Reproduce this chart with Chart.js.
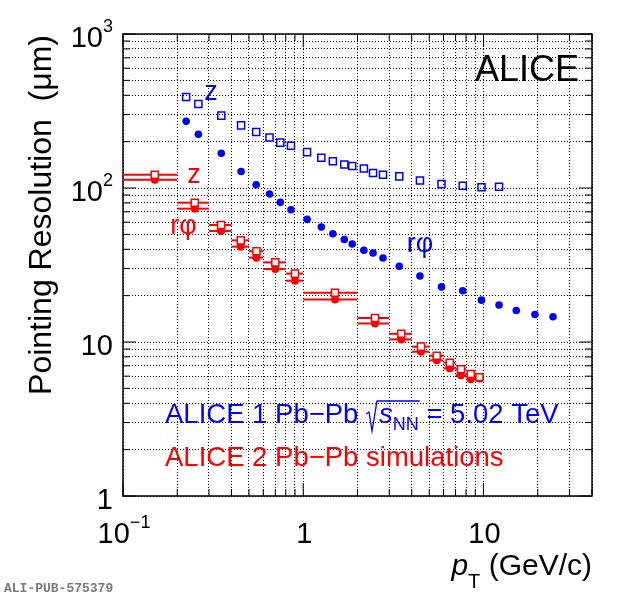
<!DOCTYPE html>
<html>
<head>
<meta charset="utf-8">
<script src="https://cdn.jsdelivr.net/npm/chart.js@4.4.1/dist/chart.umd.min.js"></script>
<style>
  html, body { margin: 0; padding: 0; background: #fff; }
  #wrap { width: 620px; height: 599px; }
</style>
</head>
<body>
<div id="wrap"><canvas id="resolution-chart"></canvas></div>
<script>
// ALICE 1, Pb-Pb 5.02 TeV (measured) — pT in GeV/c, resolution in um
const alice1Pt   = [0.224, 0.262, 0.351, 0.452, 0.548, 0.650, 0.746, 0.855, 1.05, 1.26, 1.46, 1.69, 1.87,
                    2.17, 2.44, 2.77, 3.41, 4.44, 5.85, 7.67, 9.75, 12.2, 15.2, 19.3, 24.3];
const alice1Z    = [390, 351, 295, 255, 231, 213, 197, 188, 171, 157, 149, 142, 139,
                    134, 125, 122, 119, 112, 106, 103.5, 101, 102, null, null, null];
const alice1RPhi = [271, 223, 168, 128, 105, 91.4, 80.7, 72.3, 62.6, 55.8, 50.5, 46.3, 43.3,
                    39.4, 37.8, 35.1, 31.0, 26.8, 22.8, 21.5, 18.7, 17.4, 16.0, 15.1, 14.6];

// ALICE 2 simulation, pT bins
const alice2PtLow  = [0.1, 0.2, 0.3, 0.4, 0.5, 0.6, 0.8, 1, 2, 3, 4, 5, 6, 7, 8, 9];
const alice2PtHigh = [0.2, 0.3, 0.4, 0.5, 0.6, 0.8, 1, 2, 3, 4, 5, 6, 7, 8, 9, 10];
const alice2Pt     = [0.15, 0.25, 0.35, 0.45, 0.55, 0.7, 0.9, 1.5, 2.5, 3.5, 4.5, 5.5, 6.5, 7.5, 8.5, 9.5];
const alice2Z      = [122, 80.3, 57.5, 45.7, 38.8, 32.9, 27.8, 20.9, 14.3, 11.3, 9.33, 8.15, 7.34, 6.65, 6.20, 5.9];
const alice2RPhi   = [113, 73.4, 52.6, 41.6, 35.3, 29.8, 25.0, 18.9, 13.2, 10.4, 8.65, 7.60, 6.75, 6.08, 5.73, 5.8];

// axis ranges and decade labels (base, exponent)
const xRange = [0.1, 40];
const yRange = [1, 1000];
const xDecades = [0.1, 1, 10];
const xDecadeLabels = [["10", "\u22121"], ["1", ""], ["10", ""]];
const yDecades = [1, 10, 100, 1000];
const yDecadeLabels = [["1", ""], ["10", ""], ["10", "2"], ["10", "3"]];

const BLUE = "#0000ff";
const RED = "#ff0000";
const SANS = '"Liberation Sans", Arial, sans-serif';
const font = (px, style) => `${style || ""} ${px}px ${SANS}`;

// 1..9 in every decade, for grid lines and tick marks
function logTicks(min, max) {
  const out = [];
  for (let e = Math.floor(Math.log10(min)); e <= Math.ceil(Math.log10(max)); e++) {
    for (let k = 1; k <= 9; k++) {
      const v = Number((k * Math.pow(10, e)).toPrecision(3));
      if (v >= min && v <= max) out.push(v);
    }
  }
  return out;
}
const isDecade = v => Math.abs(Math.log10(v) - Math.round(Math.log10(v))) < 1e-6;

function points(xs, ys) {
  return xs.map((x, i) => ({ x: x, y: ys[i] })).filter(p => p.y != null);
}

// draw a row of text pieces [text, font, dy, colour], returns end x
function textRun(ctx, x, y, pieces) {
  pieces.forEach(([t, f, dy, c]) => {
    ctx.font = f;
    if (c) ctx.fillStyle = c;
    ctx.fillText(t, x, y + (dy || 0));
    x += ctx.measureText(t).width;
  });
  return x;
}
function runWidth(ctx, pieces) {
  let w = 0;
  pieces.forEach(([t, f]) => { ctx.font = f; w += ctx.measureText(t).width; });
  return w;
}

const rootStyle = {
  id: "rootStyle",
  beforeDatasetsDraw(chart) {
    const { ctx, chartArea: a, scales: { x, y } } = chart;
    ctx.save();
    // frame
    ctx.strokeStyle = "#000";
    ctx.lineWidth = 1.5;
    ctx.strokeRect(a.left, a.top, a.right - a.left, a.bottom - a.top);
    // inward ticks on all four sides
    ctx.lineWidth = 1;
    x.ticks.forEach(t => {
      const px = x.getPixelForValue(t.value);
      const len = isDecade(t.value) ? 13 : 7;
      ctx.beginPath();
      ctx.moveTo(px, a.bottom); ctx.lineTo(px, a.bottom - len);
      ctx.moveTo(px, a.top); ctx.lineTo(px, a.top + len);
      ctx.stroke();
    });
    y.ticks.forEach(t => {
      const py = y.getPixelForValue(t.value);
      const len = isDecade(t.value) ? 13 : 7;
      ctx.beginPath();
      ctx.moveTo(a.left, py); ctx.lineTo(a.left + len, py);
      ctx.moveTo(a.right, py); ctx.lineTo(a.right - len, py);
      ctx.stroke();
    });
    // ALICE 2 bin widths
    ctx.strokeStyle = RED;
    ctx.lineWidth = 2;
    alice2Pt.forEach((pt, i) => {
      const x1 = x.getPixelForValue(alice2PtLow[i]);
      const x2 = x.getPixelForValue(alice2PtHigh[i]);
      [alice2Z[i], alice2RPhi[i]].forEach(v => {
        const py = y.getPixelForValue(v);
        ctx.beginPath(); ctx.moveTo(x1, py); ctx.lineTo(x2, py); ctx.stroke();
      });
    });
    ctx.restore();
  },
  afterDraw(chart) {
    const { ctx, chartArea: a, scales: { x, y } } = chart;
    ctx.save();
    ctx.textAlign = "left";
    ctx.textBaseline = "alphabetic";
    ctx.fillStyle = "#000";

    // tick labels
    xDecades.forEach((v, i) => {
      const [base, sup] = xDecadeLabels[i];
      const pieces = [[base, font(29)], [sup, font(18), -15]];
      const px = x.getPixelForValue(v);
      textRun(ctx, px - runWidth(ctx, pieces) / 2 + 1, a.bottom + 47, pieces);
    });
    yDecades.forEach((v, i) => {
      const [base, sup] = yDecadeLabels[i];
      const pieces = [[base, font(29)], [sup, font(18), -15]];
      const py = y.getPixelForValue(v);
      textRun(ctx, a.left - 10 - runWidth(ctx, pieces), py + 13, pieces);
    });

    // axis titles
    const xt = [["p", font(30, "italic")], ["T", font(20), 13], [" (GeV/c)", font(30)]];
    textRun(ctx, a.right - runWidth(ctx, xt), 575, xt);

    ctx.save();
    ctx.translate(51, a.top + 1);
    ctx.rotate(-Math.PI / 2);
    ctx.textAlign = "right";
    ctx.font = font(32);
    ctx.fillText("Pointing Resolution  (\u03bcm)", 0, 0);
    ctx.restore();

    // ALICE logo text
    ctx.font = font(36);
    ctx.textAlign = "right";
    ctx.fillText("ALICE", a.right - 13, 81);
    ctx.textAlign = "left";

    // curve labels, anchored in data coordinates
    const curveLabels = [
      ["z", 0.282, 373, BLUE], ["r\u03c6", 3.75, 38.4, BLUE],
      ["z", 0.227, 108, RED], ["r\u03c6", 0.183, 50.3, RED]
    ];
    ctx.font = font(27);
    curveLabels.forEach(([t, vx, vy, c]) => {
      ctx.fillStyle = c;
      ctx.fillText(t, x.getPixelForValue(vx), y.getPixelForValue(vy));
    });

    // ALICE 1 line with sqrt(s_NN)
    const by = 423;
    let cx = textRun(ctx, 165, by, [["ALICE 1 Pb\u2212Pb ", font(27.5), 0, BLUE]]);
    const rx = cx;
    cx += 13;
    cx = textRun(ctx, cx, by, [["s", font(27.5, "italic")], ["NN", font(18), 7]]);
    ctx.strokeStyle = BLUE;
    ctx.lineWidth = 1.3;
    ctx.beginPath();
    ctx.moveTo(rx, by - 9);
    ctx.lineTo(rx + 3, by - 11);
    ctx.lineTo(rx + 6, by + 8);
    ctx.lineTo(rx + 11, by - 22);
    ctx.lineTo(cx + 1, by - 22);
    ctx.stroke();
    textRun(ctx, cx, by, [[" = 5.02 TeV", font(27.5)]]);

    textRun(ctx, 165, 466, [["ALICE 2 Pb\u2212Pb simulations", font(27.5), 0, RED]]);

    ctx.font = 'bold 13px "Liberation Mono", monospace';
    ctx.fillStyle = "#7a7a7a";
    ctx.fillText("ALI-PUB-575379", 4, 592);
    ctx.restore();
  }
};

const logAxis = (range, size, isX) => ({
  type: "logarithmic",
  min: range[0],
  max: range[1],
  afterBuildTicks: s => { s.ticks = logTicks(range[0], range[1]).map(v => ({ value: v })); },
  afterFit: s => { if (isX) s.height = size; else s.width = size; },
  ticks: { display: false },
  grid: { color: "#000", lineWidth: 1, drawTicks: false },
  border: { display: false, dash: [1, 2] }
});

const ctx = document.getElementById("resolution-chart").getContext("2d");
new Chart(ctx, {
  type: "scatter",
  data: {
    datasets: [
      {
        label: "ALICE 1 z",
        data: points(alice1Pt, alice1Z),
        pointStyle: "rect", pointRadius: 5, borderWidth: 1.5,
        borderColor: BLUE, backgroundColor: "rgba(0,0,0,0)"
      },
      {
        label: "ALICE 1 r\u03c6",
        data: points(alice1Pt, alice1RPhi),
        pointStyle: "circle", pointRadius: 3.8, borderWidth: 0,
        borderColor: BLUE, backgroundColor: BLUE
      },
      {
        label: "ALICE 2 z",
        data: points(alice2Pt, alice2Z),
        pointStyle: "rect", pointRadius: 5, borderWidth: 1.5,
        borderColor: RED, backgroundColor: "#fff"
      },
      {
        label: "ALICE 2 r\u03c6",
        data: points(alice2Pt, alice2RPhi),
        pointStyle: "circle", pointRadius: 4, borderWidth: 0,
        borderColor: RED, backgroundColor: RED
      }
    ]
  },
  options: {
    responsive: true,
    maintainAspectRatio: false,
    animation: false,
    layout: { padding: { left: 0, right: 28, top: 34, bottom: 0 } },
    plugins: { legend: { display: false }, tooltip: { enabled: false } },
    scales: {
      x: logAxis(xRange, 103, true),
      y: logAxis(yRange, 123, false)
    }
  },
  plugins: [rootStyle]
});
</script>
</body>
</html>
